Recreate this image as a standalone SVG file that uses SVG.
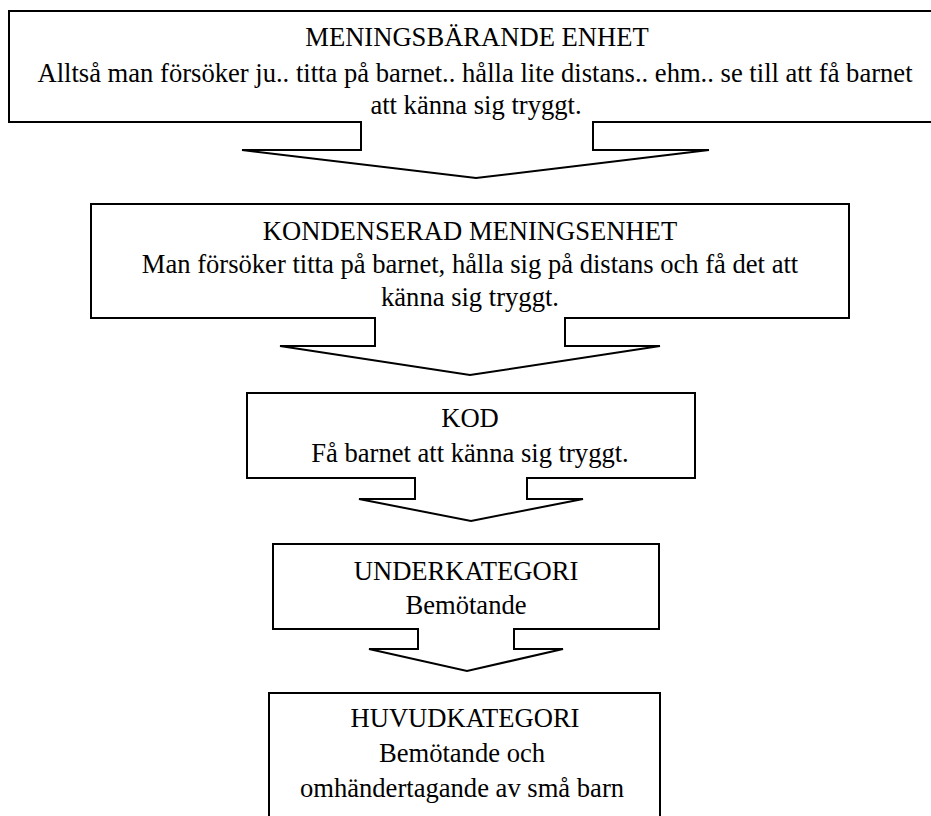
<svg xmlns="http://www.w3.org/2000/svg" width="931" height="816" viewBox="0 0 931 816">
<style>
.shape{fill:#fff;stroke:#000;stroke-width:2;stroke-linejoin:miter}
.t{font-family:'Liberation Serif','Times New Roman',serif;font-size:26.6px;fill:#000;text-anchor:middle}
</style>
<rect width="931" height="816" fill="#fff"/>
<g id="connectors"></g>
<g id="node1">
<path class="shape" d="M9,11 H945 V122 H593 V150 H709 L476,178 L242,150 H361 V122 H9 Z"/>
<g class="t">
<text x="477" y="46">MENINGSBÄRANDE ENHET</text>
<text x="475" y="82">Alltså man försöker ju.. titta på barnet.. hålla lite distans.. ehm.. se till att få barnet</text>
<text x="476" y="114">att känna sig tryggt.</text>
</g>
</g>
<g id="node2">
<path class="shape" d="M91,204 H849 V318 H565 V346 H660 L470,375 L280,346 H375 V318 H91 Z"/>
<g class="t">
<text x="470" y="240">KONDENSERAD MENINGSENHET</text>
<text x="470" y="273">Man försöker titta på barnet, hålla sig på distans och få det att</text>
<text x="470" y="306">känna sig tryggt.</text>
</g>
</g>
<g id="node3">
<path class="shape" d="M247,393 H695 V478 H527 V499 H583 L471,521 L359,499 H415 V478 H247 Z"/>
<g class="t">
<text x="470" y="427">KOD</text>
<text x="470" y="462">Få barnet att känna sig tryggt.</text>
</g>
</g>
<g id="node4">
<path class="shape" d="M273,544 H659 V629 H514 V649 H563 L467,671 L369,649 H418 V629 H273 Z"/>
<g class="t">
<text x="466" y="580">UNDERKATEGORI</text>
<text x="466" y="614">Bemötande</text>
</g>
</g>
<g id="node5">
<path class="shape" d="M269,693 H660 V830 H269 Z"/>
<g class="t">
<text x="465" y="727">HUVUDKATEGORI</text>
<text x="462" y="762">Bemötande och</text>
<text x="462" y="797">omhändertagande av små barn</text>
</g>
</g>
</svg>
